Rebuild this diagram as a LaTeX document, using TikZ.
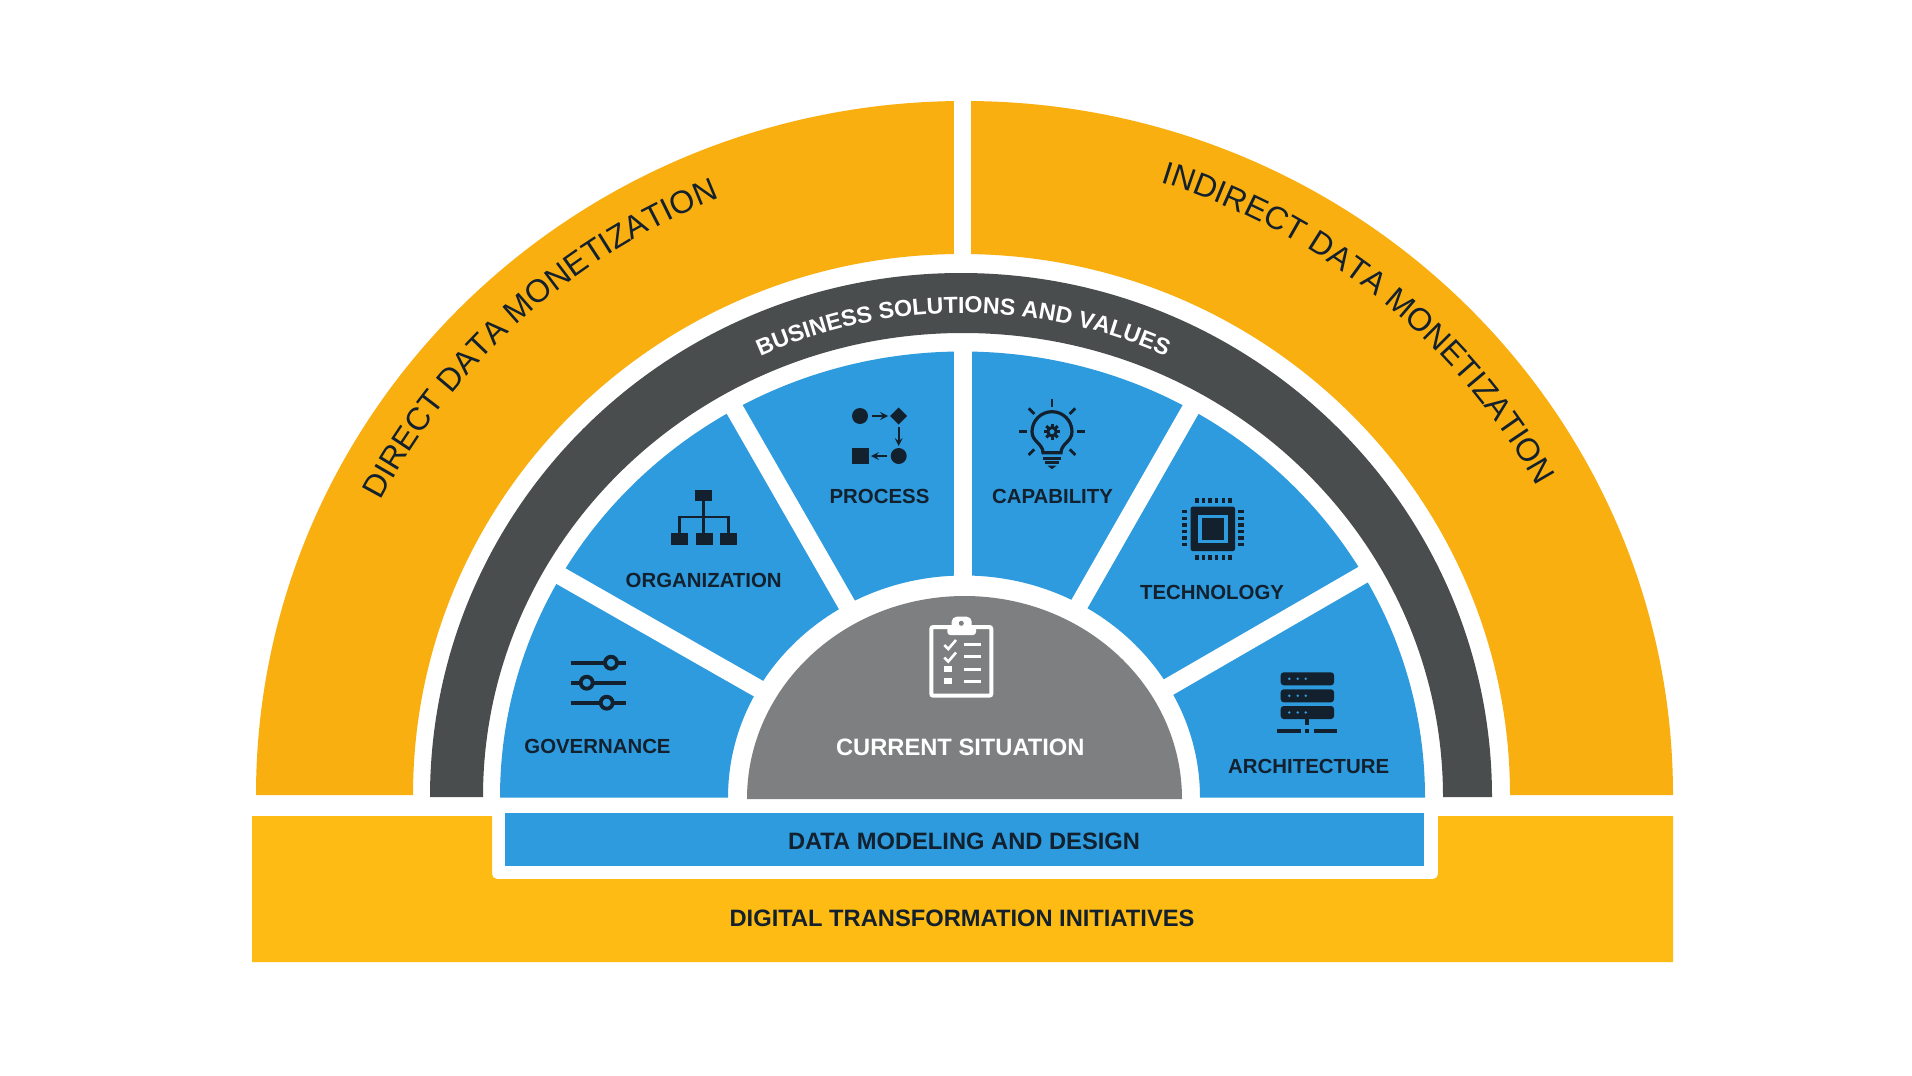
\documentclass[tikz,border=0pt]{standalone}
\usepackage{fontspec}
\setmainfont{Liberation Sans}
\usetikzlibrary{decorations.text}
\definecolor{arcorange}{HTML}{F9AF10}
\definecolor{bandyellow}{HTML}{FDBB13}
\definecolor{segblue}{HTML}{2D9BDE}
\definecolor{slate}{HTML}{4A4D4E}
\definecolor{midgrey}{HTML}{7E7F80}
\definecolor{ink}{HTML}{13202E}
\newcommand{\arcfont}{\fontsize{32}{36}\selectfont}
\newcommand{\ringfont}{\bfseries\fontsize{23.2}{26}\selectfont}
\tikzset{
    seglabel/.style={font=\bfseries\fontsize{20.4}{24}\selectfont, text=ink, inner sep=0pt},
    barlabel/.style={font=\bfseries\fontsize{23.7}{28}\selectfont, text=ink, inner sep=0pt},
    icon/.style={draw=ink, line width=2.4pt},
    iconfill/.style={fill=ink, draw=none},
    gapline/.style={draw=white, line width=18pt}
}
\begin{document}
\begin{tikzpicture}[x=1pt, y=-1pt, >=stealth]
    \fill [white] (0,0) rectangle (1912,1076);
    \useasboundingbox (0,0) rectangle (1912,1076);

    \fill [arcorange] (256,795) arc [x radius=708.5, y radius=694, start angle=180, end angle=360]
        -- (1510,795) arc [x radius=548.5, y radius=541, start angle=360, end angle=180] -- cycle;
    \fill [white] (953.5,90) rectangle (970.6,262);
    \fill [slate] (430,797) arc [x radius=531, y radius=524, start angle=180, end angle=360]
        -- (1443,797) arc [x radius=480, y radius=464, start angle=360, end angle=180] -- cycle;
    \fill [segblue] (500,797.5) arc [x radius=462.5, y radius=446, start angle=180, end angle=360]
        -- (1200,797.5) arc [x radius=236, y radius=222, start angle=360, end angle=180] -- cycle;
    \fill [midgrey] (747,799) arc [x radius=217.5, y radius=203, start angle=180, end angle=360] -- cycle;

    \foreach \xa/\ya/\xb/\yb in {555.5/573/767/693.5, 731/403/851/612, 963.3/343/963.3/585, 1194/403.5/1076/610, 1367.6/572/1160/692}
        \draw [gapline] (\xa,\ya) -- (\xb,\yb);

    \fill [bandyellow] (252,816) -- (492,816) [rounded corners=5pt] -- (492,879) -- (1438,879) [sharp corners]
        -- (1438,816) -- (1673,816) -- (1673,962) -- (252,962) -- cycle;
    \fill [segblue] (505,813) rectangle (1424,866);

    \path [shift={(963,797)}, decorate, decoration={text along path, text align=center,
        text={|\arcfont\color{ink}|DIRECT DATA MONETIZATION}}]
        (197.7:655 and 645) arc [x radius=655, y radius=645, start angle=197.7, end angle=257.7];
    \path [shift={(963,797)}, decorate, decoration={text along path, text align=center,
        text={|\arcfont\color{ink}|INDIRECT DATA MONETIZATION}}]
        (279.8:655 and 645) arc [x radius=655, y radius=645, start angle=279.8, end angle=339.1];
    \path [shift={(963,797)}, decorate, decoration={text along path, text align=center,
        text={|\ringfont\color{white}|BUSINESS SOLUTIONS AND VALUES}}]
        (225:490 and 484) arc [x radius=490, y radius=484, start angle=225, end angle=315];

    \node [seglabel] (governance) at (597.5,746) {GOVERNANCE};
    \node [seglabel] (organization) at (703.7,580.5) {ORGANIZATION};
    \node [seglabel] (process) at (879.5,496.5) {PROCESS};
    \node [seglabel] (capability) at (1052.5,496.5) {CAPABILITY};
    \node [seglabel] (technology) at (1212,592) {TECHNOLOGY};
    \node [seglabel] (architecture) at (1308.7,766) {ARCHITECTURE};
    \node [barlabel, text=white] (current) at (960.3,747.5) {CURRENT SITUATION};
    \node [barlabel] (modeling) at (964,841) {DATA MODELING AND DESIGN};
    \node [barlabel] (initiatives) at (962,918) {DIGITAL TRANSFORMATION INITIATIVES};

    \foreach \ky/\kx in {662.7/611, 682.7/586.7, 702.7/606.7} {
        \draw [icon, line width=4pt] (570.7,\ky) -- (626,\ky);
        \draw [icon, line width=3.8pt, fill=segblue] (\kx,\ky) circle (6);
    }

    \fill [ink] (695,490) rectangle (712.3,501);
    \foreach \bx in {671,696,720}
        \fill [ink] (\bx,533.3) rectangle +(17,11.7);
    \draw [icon] (703.6,501) -- (703.6,533.3);
    \draw [icon] (679.5,533.3) -- (679.5,517) -- (728.5,517) -- (728.5,533.3);

    \fill [ink] (860,416) circle (8);
    \fill [ink] (898.7,407.5) -- (907.2,416) -- (898.7,424.5) -- (890.2,416) -- cycle;
    \fill [ink] (851.7,447.7) rectangle (869,464);
    \fill [ink] (898.7,456) circle (8);
    \draw [icon, ->] (872,416) -- (888,416);
    \draw [icon, ->] (898.7,427) -- (898.7,446);
    \draw [icon, ->] (887,456) -- (871,456);

    \begin{scope}[shift={(1052,431.7)}]
        \draw [icon, line width=3.2pt] (-20,0) arc [radius=20, start angle=180, end angle=360]
            .. controls (20,10) and (9,12) .. (9,21) -- (-9,21) .. controls (-9,12) and (-20,10) .. (-20,0) -- cycle;
        \foreach \a in {0,45,...,315}
            \draw [icon, line width=3pt] (\a:4) -- (\a:8);
        \draw [icon, line width=3pt, fill=segblue] (0,0) circle (4.2);
        \draw [icon, line width=3pt] (-9,26.5) -- (9,26.5);
        \draw [icon, line width=3pt] (-7,31) -- (7,31);
        \fill [ink] (-4.5,34) -- (4.5,34) -- (0,37.5) -- cycle;
        \foreach \a in {0,45,180,135,225,270,315}
            \draw [icon, line width=2.8pt] (\a:25) -- (\a:33);
    \end{scope}

    \fill [ink, rounded corners=2pt] (1190.7,506.7) rectangle (1235,551);
    \fill [segblue] (1198,515) rectangle (1227.7,543);
    \fill [ink] (1202.3,518.3) rectangle (1224,540);
    \foreach \p in {0,...,5} {
        \fill [ink] (1195.2+6.6*\p,498) rectangle +(3.4,5);
        \fill [ink] (1195.2+6.6*\p,555) rectangle +(3.4,5);
        \fill [ink] (1181.7,510+6.6*\p) rectangle +(5.5,3.4);
        \fill [ink] (1238.3,510+6.6*\p) rectangle +(5.5,3.4);
    }

    \foreach \ry in {672.3,689.3,706} {
        \fill [ink, rounded corners=3pt] (1280.7,\ry) rectangle +(53.3,13);
        \foreach \rx in {1289.3,1297.7,1305.7}
            \fill [segblue] (\rx,\ry+6.5) circle (1.4);
    }
    \fill [ink] (1305.3,719) rectangle (1309.3,725);
    \fill [ink] (1277.3,728.8) rectangle (1301.3,733.2);
    \fill [ink] (1305.3,728.8) rectangle (1309.3,733.2);
    \fill [ink] (1314,728.8) rectangle (1337.3,733.2);

    \draw [white, line width=4pt, rounded corners=2pt] (931.3,627) rectangle (991.3,695.7);
    \fill [white, rounded corners=3pt] (947.3,626) rectangle (976,635);
    \fill [white, rounded corners=5pt] (951.7,616.7) rectangle (971.7,630);
    \fill [midgrey] (961.3,623.3) circle (2.5);
    \foreach \cy in {645,657.5}
        \draw [white, line width=2.6pt] (944.3,\cy) -- (948.3,\cy+4) -- (956,\cy-5);
    \foreach \cy in {665.7,677.7}
        \fill [white] (944.3,\cy) rectangle +(8,6.6);
    \foreach \ly in {644.3,656.7,669,681}
        \draw [white, line width=3pt] (964,\ly) -- (981,\ly);
\end{tikzpicture}
\end{document}
